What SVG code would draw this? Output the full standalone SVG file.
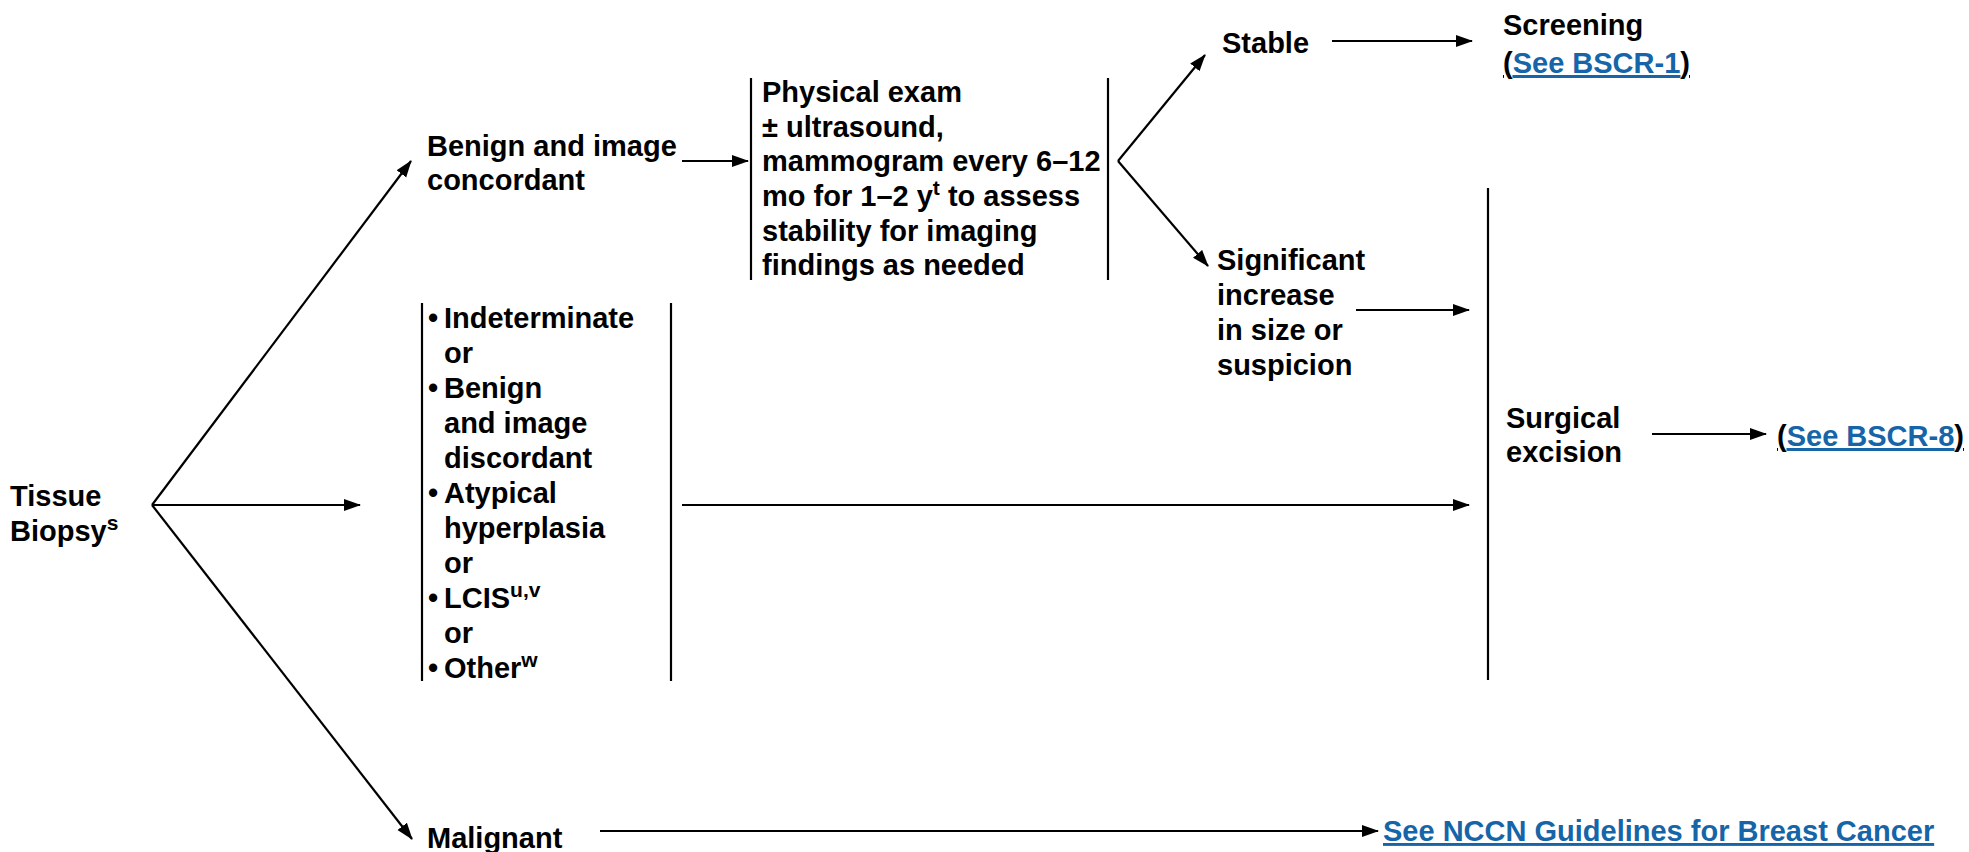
<svg xmlns="http://www.w3.org/2000/svg" width="1969" height="852" viewBox="0 0 1969 852">
<defs>
<marker id="ah" markerUnits="userSpaceOnUse" markerWidth="18" markerHeight="14" refX="16" refY="6" orient="auto">
<path d="M0,0 L17,6 L0,12 z" fill="#000"/>
</marker>
<style>
text{font-family:"Liberation Sans",Arial,sans-serif;font-weight:bold;font-size:29px;fill:#000}
.sup{font-size:21px}
.link{fill:#1565a8;text-decoration:underline}
.c{stroke:#000;stroke-width:2.2;fill:none}
.a{marker-end:url(#ah)}
.bar{stroke:#000;stroke-width:2.2}
</style>
</defs>
<rect width="1969" height="852" fill="#fff"/>

<g id="connectors">
<line class="c a" x1="152" y1="505" x2="411" y2="161"/>
<line class="c a" x1="152" y1="505" x2="360" y2="505"/>
<line class="c a" x1="152" y1="505" x2="412" y2="839"/>
<line class="c a" x1="682" y1="161" x2="748" y2="161"/>
<line class="c a" x1="1118" y1="161" x2="1205" y2="55"/>
<line class="c a" x1="1118" y1="161" x2="1208" y2="266"/>
<line class="c a" x1="1332" y1="41" x2="1472" y2="41"/>
<line class="c a" x1="1356" y1="310" x2="1469" y2="310"/>
<line class="c a" x1="682" y1="505" x2="1469" y2="505"/>
<line class="c a" x1="1652" y1="434" x2="1766" y2="434"/>
<line class="c a" x1="600" y1="831" x2="1378" y2="831"/>
</g>

<g id="tissue-biopsy">
<text x="10" y="506">Tissue</text>
<text x="10" y="541">Biopsy<tspan class="sup" dy="-11">s</tspan></text>
</g>

<g id="benign-concordant">
<text x="427" y="156">Benign and image</text>
<text x="427" y="190">concordant</text>
</g>

<g id="physical-exam">
<line class="bar" x1="751" y1="78" x2="751" y2="280"/>
<line class="bar" x1="1108" y1="78" x2="1108" y2="280"/>
<text x="762" y="102">Physical exam</text>
<text x="762" y="137">± ultrasound,</text>
<text x="762" y="171">mammogram every 6–12</text>
<text x="762" y="206">mo for 1–2 y<tspan class="sup" dy="-11">t</tspan><tspan dy="11"> to assess</tspan></text>
<text x="762" y="241">stability for imaging</text>
<text x="762" y="275">findings as needed</text>
</g>

<g id="stable">
<text x="1222" y="53">Stable</text>
</g>

<g id="screening">
<text x="1503" y="35">Screening</text>
<text x="1503" y="73" text-decoration="underline">(<tspan class="link">See BSCR-1</tspan>)</text>
</g>

<g id="significant-increase">
<text x="1217" y="270">Significant</text>
<text x="1217" y="305">increase</text>
<text x="1217" y="340">in size or</text>
<text x="1217" y="375">suspicion</text>
</g>

<g id="indeterminate-list">
<line class="bar" x1="422" y1="303" x2="422" y2="681"/>
<line class="bar" x1="671" y1="303" x2="671" y2="681"/>
<text x="428" y="328">•</text><text x="444" y="328">Indeterminate</text>
<text x="444" y="363">or</text>
<text x="428" y="398">•</text><text x="444" y="398">Benign</text>
<text x="444" y="433">and image</text>
<text x="444" y="468">discordant</text>
<text x="428" y="503">•</text><text x="444" y="503">Atypical</text>
<text x="444" y="538">hyperplasia</text>
<text x="444" y="573">or</text>
<text x="428" y="608">•</text><text x="444" y="608">LCIS<tspan class="sup" dy="-11">u,v</tspan></text>
<text x="444" y="643">or</text>
<text x="428" y="678">•</text><text x="444" y="678">Other<tspan class="sup" dy="-11">w</tspan></text>
</g>

<g id="surgical-excision">
<line class="bar" x1="1488" y1="188" x2="1488" y2="680"/>
<text x="1506" y="428">Surgical</text>
<text x="1506" y="462">excision</text>
</g>

<g id="see-bscr-8">
<text x="1777" y="446" text-decoration="underline">(<tspan class="link">See BSCR-8</tspan>)</text>
</g>

<g id="malignant">
<text x="427" y="848">Malignant</text>
</g>

<g id="nccn">
<text x="1383" y="841" class="link">See NCCN Guidelines for Breast Cancer</text>
</g>
</svg>
